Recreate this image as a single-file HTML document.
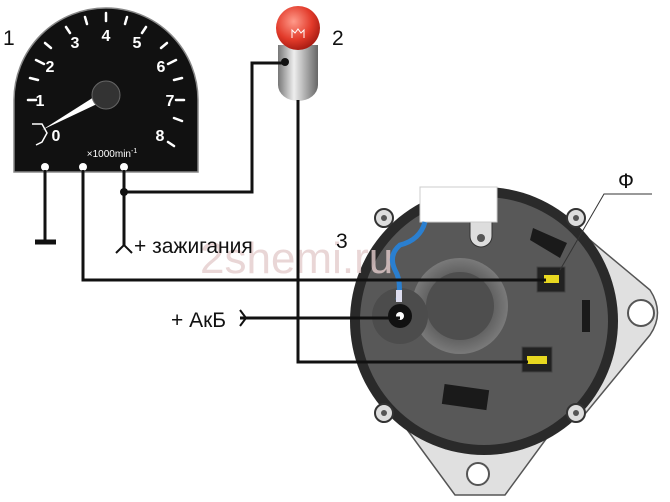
<!DOCTYPE html>
<html><head><meta charset="utf-8"><style>
html,body{margin:0;padding:0;background:#fff;width:670px;height:502px;overflow:hidden}
text{font-family:"Liberation Sans","DejaVu Sans",sans-serif}
</style></head><body>
<svg width="670" height="502" viewBox="0 0 670 502" xmlns="http://www.w3.org/2000/svg">
<defs>
<radialGradient id="red" cx="0.4" cy="0.35" r="0.7"><stop offset="0" stop-color="#ff9a8a"/><stop offset="0.6" stop-color="#e23a2a"/><stop offset="1" stop-color="#a01810"/></radialGradient>
<linearGradient id="silver" x1="0" x2="1"><stop offset="0" stop-color="#777"/><stop offset="0.4" stop-color="#eee"/><stop offset="1" stop-color="#666"/></linearGradient>
<radialGradient id="boss" cx="0.5" cy="0.5" r="0.5"><stop offset="0.6" stop-color="#5a5a5a"/><stop offset="1" stop-color="#7a7a7a"/></radialGradient>
</defs>
<!-- brackets -->
<path d="M560 215 L650 290 Q665 313 650 335 L580 420 Z" fill="#e0e0e0" stroke="#555" stroke-width="1.5"/>
<circle cx="641" cy="313" r="13" fill="#fff" stroke="#555" stroke-width="2"/>
<path d="M400 420 L455 495 L505 495 L560 420 Z" fill="#e0e0e0" stroke="#555" stroke-width="1.5"/>
<circle cx="478" cy="474" r="11" fill="#fff" stroke="#555" stroke-width="2"/>
<!-- alternator -->
<circle cx="484" cy="321" r="134" fill="#2a2a2a"/>
<circle cx="484" cy="321" r="124" fill="#585858"/>
<circle cx="460" cy="306" r="48" fill="url(#boss)"/>
<circle cx="460" cy="306" r="34" fill="#4e4e4e"/>
<circle cx="400" cy="316" r="28" fill="#4c4c4c"/>
<circle cx="384" cy="218" r="9" fill="#ddd" stroke="#333" stroke-width="2"/><circle cx="384" cy="218" r="3" fill="#555"/>
<circle cx="576" cy="218" r="9" fill="#ddd" stroke="#333" stroke-width="2"/><circle cx="576" cy="218" r="3" fill="#555"/>
<circle cx="384" cy="413" r="9" fill="#ddd" stroke="#333" stroke-width="2"/><circle cx="384" cy="413" r="3" fill="#555"/>
<circle cx="576" cy="413" r="9" fill="#ddd" stroke="#333" stroke-width="2"/><circle cx="576" cy="413" r="3" fill="#555"/>
<path d="M533 228 L567 243 L560 258 L530 240 Z" fill="#1a1a1a"/>
<rect x="582" y="300" width="8" height="32" fill="#1a1a1a"/>
<rect x="443" y="387" width="45" height="20" fill="#1a1a1a" transform="rotate(8 465 397)"/>
<path d="M470 222 h22 v14 a11 11 0 0 1 -22 0 Z" fill="#ddd" stroke="#333"/><circle cx="481" cy="238" r="4" fill="#555"/>
<rect x="420" y="187" width="77" height="35" fill="#fff" stroke="#ccc"/>
<!-- watermark -->
<text x="200" y="273" font-size="44" fill="#e3cccc" fill-opacity="0.8">2shemi.ru</text>
<path d="M425 222 Q420 240 400 245 Q388 255 395 270 Q402 282 398 300" fill="none" stroke="#2a7fd0" stroke-width="5"/>
<rect x="396" y="290" width="6" height="12" fill="#dde"/>
<circle cx="400" cy="316" r="12" fill="#111"/><circle cx="400" cy="316" r="4" fill="#fff"/>
<rect x="537" y="267" width="28" height="25" fill="#222" stroke="#444"/><rect x="544" y="275" width="15" height="8" fill="#e8d820"/>
<rect x="522" y="347" width="30" height="25" fill="#222" stroke="#444"/><rect x="527" y="356" width="20" height="8" fill="#e8d820"/>
<!-- tachometer -->
<path d="M14 172 V100 A92 92 0 0 1 198 100 V172 Z" fill="#111" stroke="#888" stroke-width="1.5"/>
<g stroke="#fff" stroke-width="2.5" stroke-linecap="round">
<line x1="28" y1="100" x2="36" y2="100"/><line x1="30" y1="78" x2="38" y2="80"/><line x1="36" y1="60" x2="44" y2="64"/><line x1="45" y1="43" x2="51" y2="48"/><line x1="66" y1="27" x2="70" y2="33"/><line x1="85" y1="17" x2="87" y2="24"/><line x1="106" y1="13" x2="106" y2="21"/><line x1="127" y1="17" x2="125" y2="24"/><line x1="146" y1="27" x2="142" y2="33"/><line x1="167" y1="43" x2="161" y2="48"/><line x1="176" y1="60" x2="168" y2="64"/><line x1="182" y1="78" x2="174" y2="80"/><line x1="184" y1="100" x2="176" y2="100"/><line x1="182" y1="121" x2="174" y2="118"/><line x1="168" y1="142" x2="174" y2="146"/>
</g>
<g fill="#fff" font-size="16" font-weight="bold" text-anchor="middle">
<text x="40" y="106">1</text><text x="50" y="72">2</text><text x="75" y="48">3</text><text x="106" y="41">4</text><text x="137" y="48">5</text><text x="161" y="72">6</text><text x="170" y="106">7</text><text x="160" y="141">8</text><text x="56" y="141">0</text>
</g>
<path d="M32 124 L42 124 L47 133 L42 142 L36 145" fill="none" stroke="#fff" stroke-width="1.5"/>
<polygon points="42,130 94,97 97,104" fill="#fff"/>
<circle cx="106" cy="95" r="14" fill="#333" stroke="#666"/>
<text x="112" y="157" font-size="10" fill="#fff" text-anchor="middle">×1000min<tspan font-size="7" dy="-4">-1</tspan></text>
<circle cx="45" cy="167" r="4" fill="#fff"/><circle cx="83" cy="167" r="4" fill="#fff"/><circle cx="124" cy="167" r="4" fill="#fff"/>
<!-- bulb -->
<path d="M278 45 h40 v40 a20 16 0 0 1 -40 0 Z" fill="url(#silver)"/>
<circle cx="298" cy="28" r="22" fill="url(#red)"/>
<path d="M292 38 v-8 l3 3 3 -4 3 4 3 -3 v8" fill="none" stroke="#fff" stroke-width="1"/>
<circle cx="285" cy="62" r="4" fill="#111"/>
<!-- wires -->
<g fill="none" stroke="#111" stroke-width="3">
<path d="M45 170 V242"/><path d="M35 242 H56" stroke-width="5"/>
<path d="M83 170 V280 H546"/>
<path d="M124 170 V245"/><path d="M116 253 L124 245 L132 253" stroke-width="2"/>
<path d="M124 192 H252 V63 H285"/>
<path d="M298 100 V362 H528"/>
<path d="M240 318 H400"/><path d="M240 310 L246 318 L240 326" stroke-width="2"/>
</g>
<circle cx="124" cy="192" r="4" fill="#111"/>
<path d="M560 270 L604 194 H652" fill="none" stroke="#333" stroke-width="1"/>
<!-- labels -->
<g font-size="21" fill="#111">
<text x="3" y="45">1</text><text x="332" y="45">2</text><text x="336" y="248">3</text><text x="618" y="188">Ф</text>
<text x="134" y="253">+ зажигания</text><text x="171" y="327">+ АкБ</text>
</g>
</svg>
</body></html>
